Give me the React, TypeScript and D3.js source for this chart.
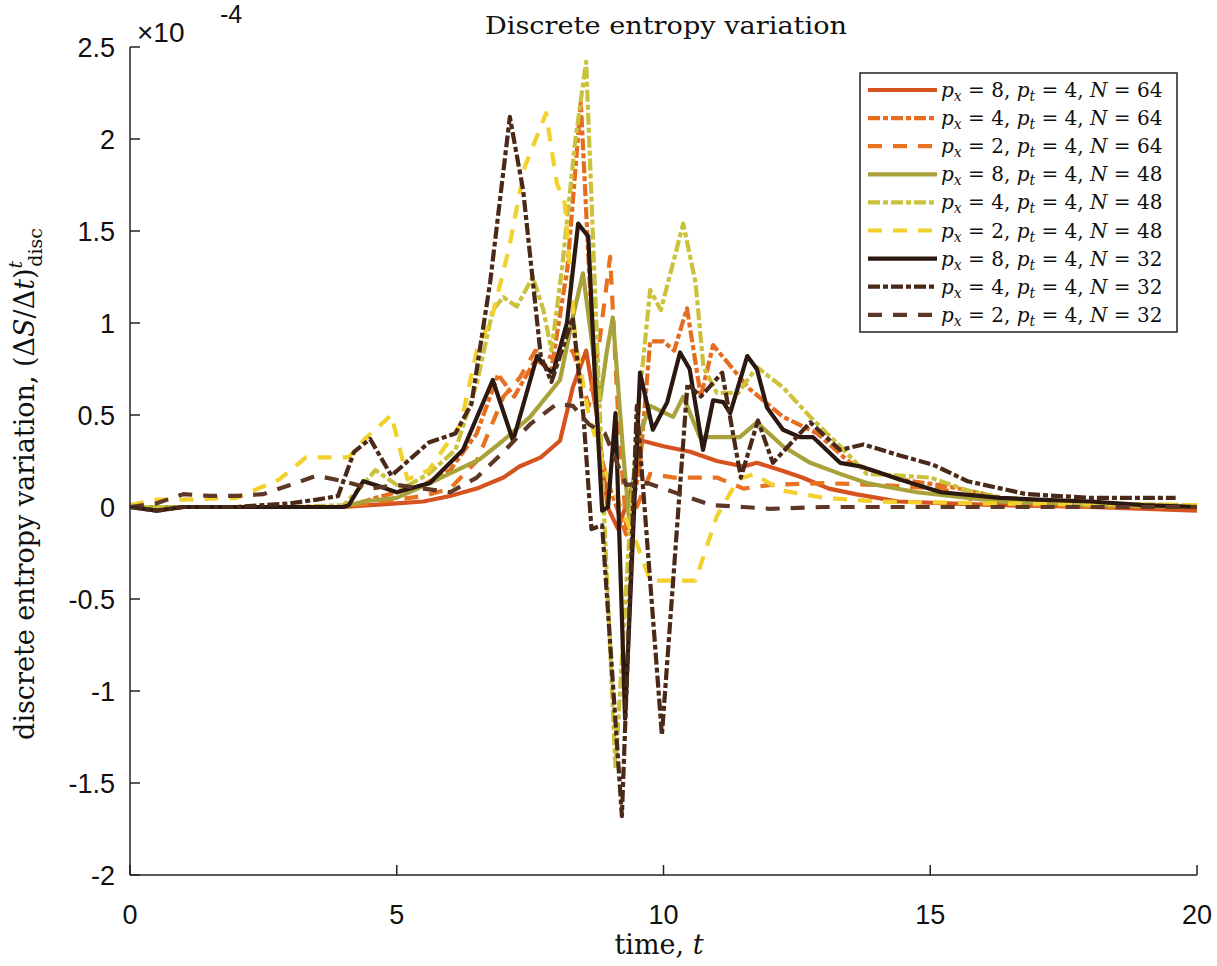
import React from "react";
import * as d3 from "d3";

// ---------- data (values in units of 1e-4) ----------
const xTicks = [0, 5, 10, 15, 20];
const yTicks = [-2, -1.5, -1, -0.5, 0, 0.5, 1, 1.5, 2, 2.5];
const yTickLabels = ["-2", "-1.5", "-1", "-0.5", "0", "0.5", "1", "1.5", "2", "2.5"];

const pxValues = [8, 4, 2, 8, 4, 2, 8, 4, 2];
const ptValue = 4;
const nValues = [64, 64, 64, 48, 48, 48, 32, 32, 32];

// px=8, N=64
const tP8N64 = [0, 1, 2, 3, 4, 4.5, 5, 5.5, 6, 6.5, 7, 7.3, 7.7, 8.06, 8.3, 8.55, 8.75, 8.95, 9.15, 9.4, 9.6, 10.0, 10.5, 11, 11.5, 11.75, 12.2, 12.6, 13.1, 13.6, 14.4, 15.3, 16.3, 18, 20];
const vP8N64 = [0, 0, 0, 0, 0, 0.01, 0.02, 0.03, 0.06, 0.1, 0.16, 0.22, 0.27, 0.36, 0.65, 0.85, 0.5, 0.0, -0.12, 0.1, 0.36, 0.33, 0.3, 0.25, 0.22, 0.24, 0.2, 0.16, 0.1, 0.07, 0.03, 0.02, 0.01, 0.0, -0.02];
// px=4, N=64
const tP4N64 = [0, 1, 2, 3, 4, 4.3, 4.6, 5, 5.5, 6, 6.5, 6.9, 7.2, 7.6, 7.9, 8.2, 8.45, 8.62, 8.8, 9.0, 9.3, 9.55, 9.75, 10.0, 10.2, 10.44, 10.7, 10.93, 11.3, 11.62, 12.24, 12.88, 13.5, 14.43, 15.37, 16.5, 18, 20];
const vP4N64 = [0, 0, 0, 0, 0, 0.02, 0.05, 0.08, 0.12, 0.2, 0.4, 0.72, 0.6, 0.8, 0.75, 1.3, 2.2, 1.2, 0.3, 0.1, -0.15, 0.2, 0.9, 0.9, 0.85, 1.08, 0.6, 0.88, 0.75, 0.64, 0.49, 0.4, 0.24, 0.15, 0.11, 0.04, 0.01, 0.0];
// px=2, N=64
const tP2N64 = [0, 1, 2, 3, 4, 4.5, 5, 5.5, 6, 6.5, 7.0, 7.3, 7.6, 8.0, 8.3, 8.6, 8.8, 9.0, 9.15, 9.3, 9.5, 9.75, 10.2, 11, 11.5, 12, 13, 14, 15.2, 16, 18, 20];
const vP2N64 = [0, 0, 0, 0, 0, 0.02, 0.04, 0.06, 0.1, 0.25, 0.6, 0.7, 0.85, 0.8, 0.85, 0.55, 0.9, 1.36, 0.5, -0.1, 0.0, 0.18, 0.16, 0.16, 0.1, 0.12, 0.13, 0.12, 0.1, 0.02, 0.0, 0.0];
// px=8, N=48
const tP8N48 = [0, 1, 2, 3, 4, 4.37, 5, 5.62, 6.56, 6.99, 7.5, 8.06, 8.3, 8.49, 8.68, 8.81, 8.94, 9.05, 9.24, 9.35, 9.56, 9.75, 10.18, 10.37, 10.68, 11.43, 11.75, 12.24, 12.75, 13.31, 13.81, 14.75, 16.3, 18, 20];
const vP8N48 = [0, 0, 0, 0, 0, 0.03, 0.05, 0.13, 0.26, 0.36, 0.49, 0.69, 1.03, 1.27, 0.85, 0.58, 0.85, 1.03, 0.31, -0.05, 0.4, 0.55, 0.49, 0.6, 0.38, 0.38, 0.46, 0.33, 0.24, 0.18, 0.13, 0.08, 0.03, 0.01, 0];
// px=4, N=48
const tP4N48 = [0, 1, 2, 3, 4, 4.3, 4.6, 5.1, 5.6, 6.1, 6.5, 6.8, 7.0, 7.25, 7.55, 7.75, 7.9, 8.1, 8.35, 8.55, 8.7, 8.85, 9.1, 9.35, 9.55, 9.75, 9.95, 10.37, 10.6, 10.75, 11.0, 11.4, 11.75, 12.24, 12.75, 13.31, 13.81, 14.43, 15.0, 15.7, 16.3, 18, 20];
const vP4N48 = [0, 0, 0, 0, 0.01, 0.1, 0.2, 0.1, 0.18, 0.31, 0.67, 1.07, 1.14, 1.09, 1.25, 1.07, 0.85, 1.3, 2.0, 2.42, 1.3, 0.2, -1.42, -0.2, 0.6, 1.18, 1.07, 1.54, 1.22, 0.76, 0.62, 0.62, 0.76, 0.65, 0.49, 0.33, 0.18, 0.17, 0.16, 0.09, 0.05, 0.02, 0.01];
// px=2, N=48
const tP2N48 = [0, 0.5, 1, 2, 2.4, 2.8, 3.3, 4.1, 4.4, 4.9, 5.2, 5.6, 6.2, 6.5, 6.8, 7.1, 7.4, 7.8, 8.0, 8.15, 8.35, 8.6, 8.9, 9.2, 9.5, 9.75, 10.6, 11.0, 11.4, 11.7, 12.2, 13, 14, 16, 20];
const vP2N48 = [0.01, 0.04, 0.04, 0.05, 0.1, 0.15, 0.27, 0.27, 0.37, 0.5, 0.15, 0.2, 0.45, 0.85, 1.05, 1.4, 1.85, 2.14, 1.76, 1.65, 0.9, 0.5, 0.2, 0.0, -0.2, -0.4, -0.4, -0.05, 0.15, 0.18, 0.09, 0.05, 0.03, 0.02, 0.01];
// px=8, N=32
const tP8N32 = [0, 0.5, 1, 2, 3, 4, 4.1, 4.37, 4.6, 5.0, 5.62, 6.24, 6.8, 7.18, 7.63, 7.82, 7.93, 8.19, 8.4, 8.59, 8.72, 8.85, 8.96, 9.1, 9.28, 9.56, 9.8, 10.07, 10.31, 10.49, 10.74, 10.93, 11.12, 11.25, 11.57, 11.75, 11.94, 12.24, 12.56, 12.8, 13.31, 13.7, 14.43, 15.2, 16.3, 17, 18, 19, 20];
const vP8N32 = [0, -0.02, 0, 0, 0, 0, 0.01, 0.14, 0.12, 0.08, 0.13, 0.31, 0.69, 0.36, 0.82, 0.75, 0.73, 1.0, 1.54, 1.47, 0.67, -0.02, 0.0, 0.51, -1.15, 0.73, 0.42, 0.57, 0.84, 0.75, 0.31, 0.58, 0.57, 0.51, 0.82, 0.75, 0.54, 0.42, 0.38, 0.38, 0.24, 0.22, 0.15, 0.08, 0.05, 0.04, 0.03, 0.01, 0.0];
// px=4, N=32
const tP4N32 = [0, 0.5, 1, 2, 2.5, 3, 3.5, 3.9, 4.2, 4.5, 4.9, 5.6, 6.1, 6.4, 6.75, 7.12, 7.37, 7.7, 7.9, 8.3, 8.5, 8.65, 8.85, 9.22, 9.5, 9.97, 10.45, 10.7, 11.1, 11.45, 11.77, 12.05, 12.75, 13.31, 13.75, 14.43, 15.05, 15.7, 16.8, 18, 19.6];
const vP4N32 = [0, -0.02, 0, 0, 0.01, 0.02, 0.04, 0.06, 0.3, 0.37, 0.17, 0.35, 0.4, 0.56, 1.22, 2.12, 1.72, 0.82, 0.68, 1.03, 0.49, -0.12, -0.1, -1.68, 0.55, -1.24, 0.67, 0.6, 0.73, 0.16, 0.47, 0.24, 0.46, 0.31, 0.34, 0.28, 0.23, 0.14, 0.07, 0.05, 0.05];
// px=2, N=32
const tP2N32 = [0, 0.5, 1, 1.5, 2, 2.5, 3, 3.5, 4, 4.5, 5, 5.5, 6, 6.5, 7, 7.5, 8, 8.3, 8.6, 8.9, 9.3, 9.7, 10.3, 10.9, 11.5, 12, 13, 14, 16, 18, 20];
const vP2N32 = [0, 0.02, 0.07, 0.06, 0.06, 0.07, 0.12, 0.17, 0.14, 0.1, 0.12, 0.1, 0.08, 0.16, 0.3, 0.45, 0.56, 0.55, 0.45, 0.4, 0.12, 0.13, 0.07, 0.01, 0.0, -0.01, 0, 0, 0, 0, 0];

const seriesT = [tP8N64, tP4N64, tP2N64, tP8N48, tP4N48, tP2N48, tP8N32, tP4N32, tP2N32];
const seriesV = [vP8N64, vP4N64, vP2N64, vP8N48, vP4N48, vP2N48, vP8N32, vP4N32, vP2N32];

const colors = ["#d6531f", "#e66d1f", "#e8721f", "#a9a23b", "#cbc23c", "#f2d12c", "#2b1810", "#4a2919", "#5e3826"];
const dashes = ["none", "12,3,5,3", "14,11", "none", "12,3,5,3", "14,11", "none", "12,3,5,3", "14,11"];

// ---------- layout ----------
const W = 1217;
const H = 966;
const x = d3.scaleLinear().domain([0, 20]).range([130, 1197]);
const y = d3.scaleLinear().domain([-2, 2.5]).range([875, 47]);

const serif = "'DejaVu Serif', 'Liberation Serif', serif";
const sans = "'Liberation Sans', Arial, sans-serif";

export default function App() {
  const line = d3
    .line<[number, number]>()
    .x((d) => x(d[0]))
    .y((d) => y(d[1]));

  const paths = seriesT.map((ts, i) => line(ts.map((t, j) => [t, seriesV[i][j]] as [number, number])) || "");

  const legX = 860;
  const legY = 73;
  const legW = 317;
  const legH = 259;
  const rowY = (i: number) => 90 + i * 28.1;

  return (
    <svg width={W} height={H} style={{ position: "absolute", left: 0, top: 0, background: "#fff" }}>
      {/* title */}
      <text x={666} y={34} textAnchor="middle" fontFamily={serif} fontSize={25} textLength={362} lengthAdjust="spacingAndGlyphs" fill="#111">
        Discrete entropy variation
      </text>

      {/* exponent */}
      <text x={137} y={42} fontFamily={sans} fontSize={28} fill="#111">×10</text>
      <text x={220} y={23} fontFamily={sans} fontSize={25} fill="#111">-4</text>

      {/* series */}
      {paths.map((d, i) => (
        <path
          key={i}
          d={d}
          fill="none"
          stroke={colors[i]}
          strokeWidth={4.2}
          strokeDasharray={dashes[i]}
          strokeLinejoin="round"
        />
      ))}

      {/* axes */}
      <line x1={x(0)} y1={y(2.5)} x2={x(0)} y2={y(-2)} stroke="#222" strokeWidth={1.5} />
      <line x1={x(0)} y1={y(-2)} x2={x(20)} y2={y(-2)} stroke="#222" strokeWidth={1.5} />
      {yTicks.map((v, i) => (
        <g key={"y" + i}>
          <line x1={x(0)} x2={x(0) + 10} y1={y(v)} y2={y(v)} stroke="#222" strokeWidth={1.5} />
          <text x={x(0) - 15} y={y(v) + 10} textAnchor="end" fontFamily={sans} fontSize={27} fill="#111">
            {yTickLabels[i]}
          </text>
        </g>
      ))}
      {xTicks.map((t, i) => (
        <g key={"x" + i}>
          <line x1={x(t)} x2={x(t)} y1={y(-2)} y2={y(-2) - 10} stroke="#222" strokeWidth={1.5} />
          <text x={x(t)} y={924} textAnchor="middle" fontFamily={sans} fontSize={27} fill="#111">
            {String(t)}
          </text>
        </g>
      ))}

      {/* axis labels */}
      <text x={659} y={954} textAnchor="middle" fontFamily={serif} fontSize={27} fill="#111">
        time, <tspan fontStyle="italic">t</tspan>
      </text>
      <text transform="translate(34,484) rotate(-90)" textAnchor="middle" fontFamily={serif} fontSize={27} fill="#111">
        discrete entropy variation, (Δ<tspan fontStyle="italic">S</tspan>/Δ<tspan fontStyle="italic">t</tspan>)
        <tspan fontStyle="italic" fontSize={19} dy={-12}>t</tspan>
        <tspan fontSize={19} dx={-6} dy={20}>disc</tspan>
      </text>

      {/* legend */}
      <rect x={legX} y={legY} width={legW} height={legH} fill="#fff" stroke="#222" strokeWidth={1.5} />
      {pxValues.map((p, i) => (
        <g key={"l" + i}>
          <line x1={868} x2={937} y1={rowY(i)} y2={rowY(i)} stroke={colors[i]} strokeWidth={4.2} strokeDasharray={dashes[i]} />
          <text x={941} y={rowY(i) + 7} fontFamily={serif} fontSize={20} fill="#111">
            <tspan fontStyle="italic">p</tspan>
            <tspan fontStyle="italic" fontSize={14} dy={4}>x</tspan>
            <tspan dy={-4}>{` = ${p}, `}</tspan>
            <tspan fontStyle="italic">p</tspan>
            <tspan fontStyle="italic" fontSize={14} dy={4}>t</tspan>
            <tspan dy={-4}>{` = ${ptValue}, `}</tspan>
            <tspan fontStyle="italic">N</tspan>
            <tspan>{` = ${nValues[i]}`}</tspan>
          </text>
        </g>
      ))}
    </svg>
  );
}
